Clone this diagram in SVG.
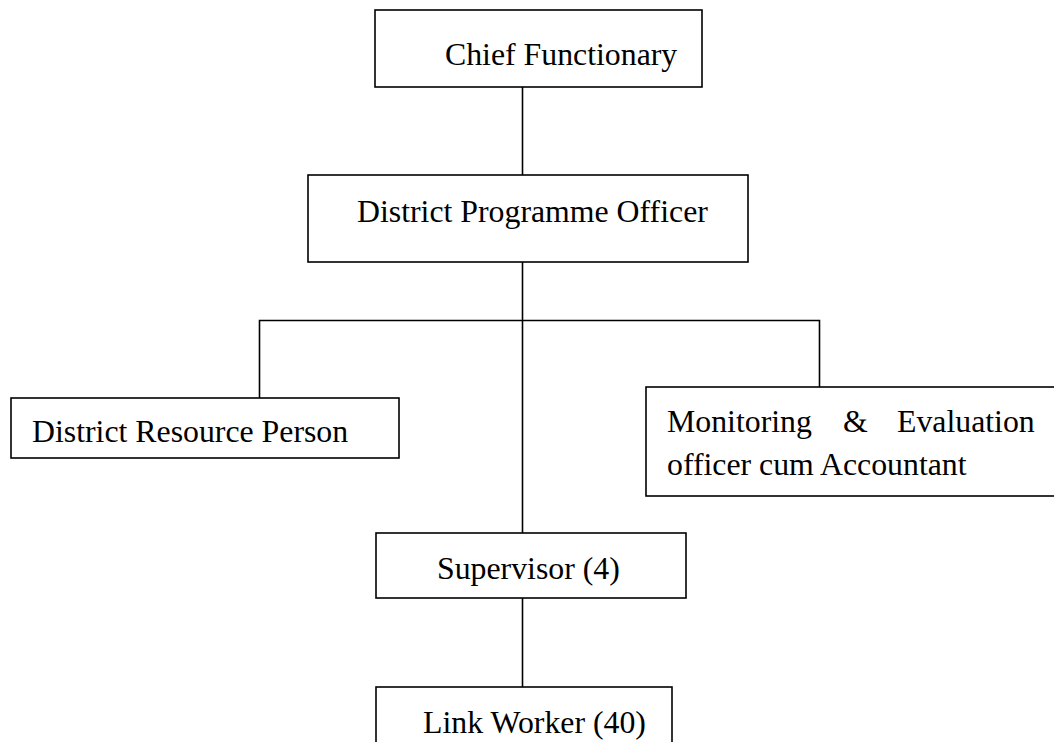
<svg xmlns="http://www.w3.org/2000/svg" width="1054" height="742" viewBox="0 0 1054 742">
<style>
.box{fill:#fff;stroke:#000;stroke-width:1.6}
.ln{fill:none;stroke:#000;stroke-width:1.6}
text{font-family:"Liberation Serif","Times New Roman",serif;font-size:31.8px;fill:#000}
</style>
<rect width="1054" height="742" fill="#fff"/>
<g id="connectors">
<line class="ln" x1="522.5" y1="87" x2="522.5" y2="175"/>
<line class="ln" x1="522.5" y1="262" x2="522.5" y2="533"/>
<polyline class="ln" points="259.5,398 259.5,320.5 819.5,320.5 819.5,387"/>
<line class="ln" x1="522.5" y1="598" x2="522.5" y2="687"/>
</g>
<g id="chief">
<rect class="box" x="375" y="10" width="327" height="77"/>
<text x="445" y="65">Chief Functionary</text>
</g>
<g id="dpo">
<rect class="box" x="308" y="175" width="440" height="87"/>
<text x="357" y="222">District Programme Officer</text>
</g>
<g id="drp">
<rect class="box" x="11" y="398" width="388" height="60"/>
<text x="32" y="442">District Resource Person</text>
</g>
<g id="me">
<rect class="box" x="646" y="387" width="420" height="109"/>
<text x="667" y="432">Monitoring</text>
<text x="843" y="432">&amp;</text>
<text x="897" y="432">Evaluation</text>
<text x="667" y="475">officer cum Accountant</text>
</g>
<g id="supervisor">
<rect class="box" x="376" y="533" width="310" height="65"/>
<text x="437" y="579">Supervisor (4)</text>
</g>
<g id="linkworker">
<rect class="box" x="376" y="687" width="296" height="70"/>
<text x="423" y="733">Link Worker (40)</text>
</g>
</svg>
